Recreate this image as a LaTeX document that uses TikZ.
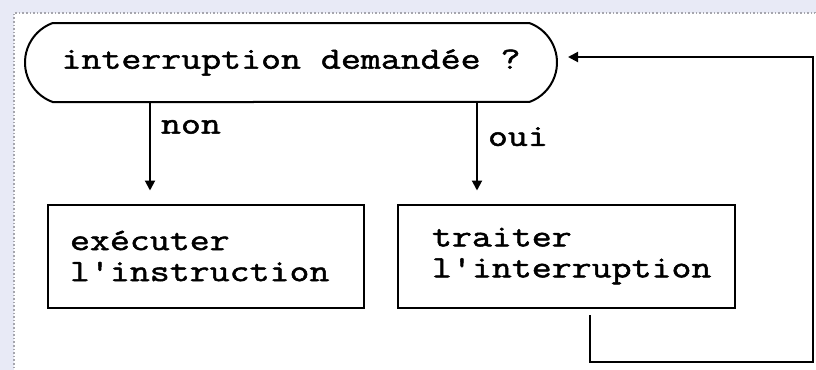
\documentclass[tikz,border=0pt]{standalone}
\usepackage{fontspec}
\newfontfamily\cour{Latin Modern Mono}[FakeStretch=1.25, FakeBold=1.6]
\usetikzlibrary{shapes.misc,arrows.meta,positioning}
\definecolor{bgc}{HTML}{E8EAF6}
\definecolor{frm}{HTML}{A6A6AE}
\tikzset{
  txt/.style={font=\cour\fontsize{15.5}{15.5}\selectfont},
  test/.style={txt, draw, line width=1pt, rounded rectangle, rounded rectangle arc length=140,
    minimum width=266pt, minimum height=39.5pt, inner sep=0pt},
  box/.style={txt, draw, line width=1pt, align=left, minimum height=51.5pt, inner ysep=0pt},
  arr/.style={line width=1pt, -{Triangle[length=5pt, width=5pt]}},
  lbl/.style={txt, inner sep=0pt, anchor=base west, xshift=5pt}}
\begin{document}
\begin{tikzpicture}[x=0.5pt, y=-0.5pt]
% fond et cadre
\fill[bgc] (0,0) rectangle (816,370);
\useasboundingbox (0,0) rectangle (816,370);
\filldraw[fill=white, draw=frm, densely dotted, line width=0.8pt] (816,13) -- (14,13) -- (14,370) -- (816,370) -- cycle;
\draw[white, line width=1.5pt] (816,13) -- (816,370) -- (14,370);
% noeuds
\node[test] (test) at (291,62.5) {interruption demandée ?};
\node[box, inner xsep=11pt, text width=136pt] (exec) at (206,256) {exécuter\\l'instruction};
\node[box, inner xsep=17pt, text width=134.5pt] (trait) at (566.5,256) {traiter\\l'interruption};
% liaisons
\coordinate (c-non) at (150,0);
\coordinate (c-oui) at (477,0);
\coordinate (c-ret) at (590,315);
\coordinate (c-bas) at (813,362);
\coordinate (c-haut) at (813,57);
\draw[arr] (c-non |- test.south) -- ([yshift=6.5pt]c-non |- exec.north) node[lbl, pos=0.35] {non};
\draw[arr] (c-oui |- test.south) -- ([yshift=6.5pt]c-oui |- trait.north) node[lbl, pos=0.49] {oui};
\draw[arr] (c-ret) -- (c-ret |- c-bas) -- (c-bas) -- (c-haut) -- ([xshift=5pt]test.east |- c-haut);
\end{tikzpicture}
\end{document}
